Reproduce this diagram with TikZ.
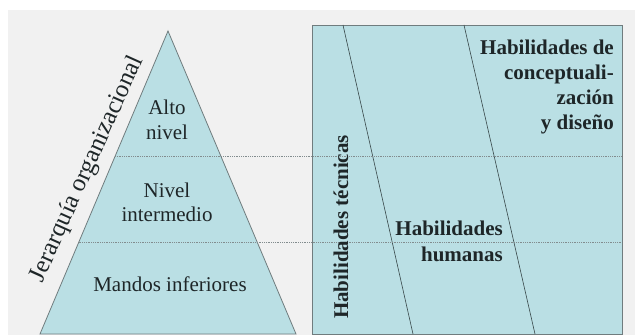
\documentclass[tikz,border=0pt]{standalone}
\usepackage{fontspec}
\setmainfont{Liberation Serif}
\usepackage{tikz}
\usetikzlibrary{calc,positioning}
\definecolor{my_bg}{RGB}{241, 241, 241}
\definecolor{my_fill}{RGB}{186, 223, 228}
\definecolor{my_edge}{RGB}{112, 124, 126}
\definecolor{my_line}{RGB}{55, 70, 72}
\definecolor{my_dots}{RGB}{130, 140, 142}
\definecolor{my_text}{RGB}{30, 38, 40}
\tikzset{
  leveltext/.style = {align=center, inner sep=0pt, text=my_text,
  font=\fontsize{21}{25}\selectfont},
  skilltext/.style = {leveltext, align=right, font=\fontsize{21}{25}\selectfont\bfseries},
  axistext/.style = {leveltext, font=\fontsize{25}{29}\selectfont},
  levelline/.style = {draw=my_dots, densely dotted, line width=0.8pt},
  skillline/.style = {draw=my_line, line width=0.6pt}
}
\begin{document}
\begin{tikzpicture}[x=1pt, y=1pt,
            shapebox/.style={fill=my_fill, draw=my_edge, line width=0.8pt}]
            \useasboundingbox (0,0) rectangle (635,335);
            \fill[my_bg] (8,0) rectangle (635,325);
            % pyramid
            \coordinate (tl) at (40,1);
            \coordinate (tr) at (296,1);
            \coordinate (top) at (168,304);
            \draw[shapebox] (tl) -- (top) -- (tr) -- cycle;
            % skills box
            \coordinate (bl) at (312,1);
            \coordinate (ur) at (622,310);
            \draw[shapebox] (bl) rectangle (ur);
            \draw[skillline] (343,310) coordinate (s1t) -- (413,1) coordinate (s1b);
            \draw[skillline] (464,310) coordinate (s2t) -- (535,1) coordinate (s2b);
            % levels
            \coordinate (cut1) at ($(tl)!0.586!(top)$);
            \coordinate (cut2) at ($(tl)!0.301!(top)$);
            \draw[levelline] (cut1) -- (cut1 -| ur);
            \draw[levelline] (cut2) -- (cut2 -| ur);
            \node [leveltext, anchor=base] (alto) at (167,195) {Alto\\nivel};
            \node [leveltext, anchor=base] (medio) at (167,113) {Nivel\\intermedio};
            \node [leveltext, anchor=base] (bajo) at (170,44) {Mandos inferiores};
            \node [axistext, anchor=base, rotate=65.8] (jerarquia) at (93,163.5) {Jerarquía organizacional};
            \node [skilltext, anchor=base, rotate=90] (tecnicas) at (348,108) {Habilidades técnicas};
            \node [skilltext, anchor=base east, font=\fontsize{21}{27}\selectfont\bfseries] (humanas) at (503,73) {Habilidades\\humanas};
            \node [skilltext, anchor=base east] (concepto) at (614,205) {Habilidades de\\conceptuali-\\zación\\y diseño};
\end{tikzpicture}
\end{document}
